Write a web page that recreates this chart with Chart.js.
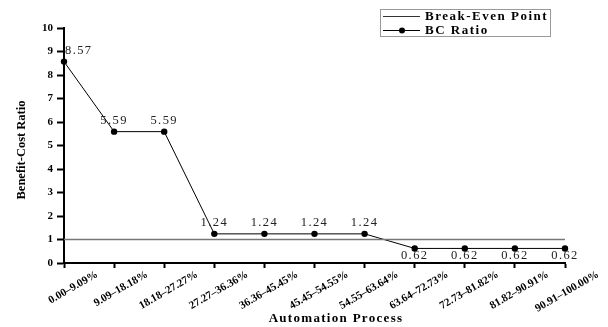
<!DOCTYPE html>
<html><head><meta charset="utf-8">
<script src="https://cdn.jsdelivr.net/npm/chart.js@4/dist/chart.umd.min.js"></script>
<style>html,body{margin:0;padding:0;background:#fff}#wrap{width:608px;height:327px}</style>
</head><body><div id="wrap"><canvas id="c" width="608" height="327"></canvas></div>
<script>
const categories = ['0.00–9.09%', '9.09–18.18%', '18.18–27.27%', '27.27–36.36%', '36.36–45.45%', '45.45–54.55%', '54.55–63.64%', '63.64–72.73%', '72.73–81.82%', '81.82–90.91%', '90.91–100.00%'];
const bcRatio = [8.57, 5.59, 5.59, 1.24, 1.24, 1.24, 1.24, 0.62, 0.62, 0.62, 0.62];
const breakEven = [1, 1, 1, 1, 1, 1, 1, 1, 1, 1, 1];
const seriesNames = ['Break-Even Point', 'BC Ratio'];
const xTitle = 'Automation Process';
const yTitle = 'Benefit-Cost Ratio';

const SERIF = "'Liberation Serif', 'Times New Roman', serif";

const extras = {
  id: 'extras',
  afterDatasetsDraw(chart) {
    const ctx = chart.ctx;
    const meta = chart.getDatasetMeta(1);
    ctx.save();
    ctx.font = '12.5px ' + SERIF;
    ctx.fillStyle = '#222';
    ctx.letterSpacing = '1.4px';
    ctx.textBaseline = 'middle';
    meta.data.forEach((pt, i) => {
      const v = bcRatio[i];
      const txt = v.toFixed(2);
      ctx.textAlign = i === 0 ? 'left' : 'center';
      const below = v < 1;
      const y = below ? pt.y + 7 : pt.y - 11;
      ctx.fillText(txt, pt.x + (i === 0 ? 1 : 0), y);
    });
    ctx.restore();

    // axis titles
    ctx.save();
    ctx.fillStyle = '#000';
    ctx.font = 'bold 13px ' + SERIF;
    ctx.letterSpacing = '1.3px';
    ctx.textAlign = 'center';
    ctx.textBaseline = 'middle';
    ctx.fillText(xTitle, 336, 319);
    ctx.restore();
    ctx.save();
    ctx.fillStyle = '#000';
    ctx.font = 'bold 12.5px ' + SERIF;
    ctx.textAlign = 'center';
    ctx.textBaseline = 'middle';
    ctx.translate(22, 150);
    ctx.rotate(-Math.PI / 2);
    ctx.fillText(yTitle, 0, 0);
    ctx.restore();

    // legend
    ctx.save();
    ctx.strokeStyle = '#999';
    ctx.lineWidth = 1;
    ctx.strokeRect(380.5, 9.5, 170, 27);
    const ds = chart.data.datasets;
    ctx.font = 'bold 13px ' + SERIF;
    ctx.letterSpacing = '1.5px';
    ctx.textAlign = 'left';
    ctx.textBaseline = 'middle';
    ctx.fillStyle = '#000';
    [16, 30].forEach((yy, k) => {
      ctx.strokeStyle = k === 0 ? '#333' : ds[1].borderColor;
      ctx.lineWidth = 1;
      ctx.beginPath();
      ctx.moveTo(383, yy + 0.5);
      ctx.lineTo(420, yy + 0.5);
      ctx.stroke();
      if (k === 1) {
        ctx.beginPath();
        ctx.arc(402, yy + 0.5, 3, 0, Math.PI * 2);
        ctx.fillStyle = '#000';
        ctx.fill();
      }
      ctx.fillStyle = '#000';
      ctx.fillText(seriesNames[k], 425, yy + 1);
    });
    ctx.restore();
  }
};

new Chart(document.getElementById('c'), {
  type: 'line',
  data: {
    labels: categories,
    datasets: [
      { label: seriesNames[0], data: breakEven, borderColor: '#777', borderWidth: 1.5, pointRadius: 0, fill: false, tension: 0 },
      { label: seriesNames[1], data: bcRatio, borderColor: '#000', backgroundColor: '#000', borderWidth: 1, pointRadius: 3.2, pointBackgroundColor: '#000', pointBorderWidth: 0, fill: false, tension: 0 }
    ]
  },
  options: {
    responsive: false,
    animation: false,
    devicePixelRatio: 1,
    layout: { padding: { left: 0, right: 43, top: 28, bottom: 0 } },
    plugins: { legend: { display: false }, tooltip: { enabled: false } },
    scales: {
      x: {
        type: 'category',
        offset: false,
        afterFit(s) { s.height = 64; },
        border: { color: '#000', width: 2 },
        grid: { drawOnChartArea: false, drawTicks: true, tickLength: 5, tickWidth: 2, tickColor: '#000', offset: false },
        ticks: { autoSkip: false, minRotation: 30, maxRotation: 30, labelOffset: 33, padding: 0, color: '#000', font: { family: SERIF, size: 11, weight: 'bold' } }
      },
      y: {
        min: 0, max: 10,
        afterFit(s) { s.width = 64; },
        border: { color: '#000', width: 2 },
        grid: { drawOnChartArea: false, drawTicks: true, tickLength: 7, tickWidth: 2, tickColor: '#000' },
        ticks: { stepSize: 1, padding: 4, color: '#000', font: { family: SERIF, size: 11, weight: 'bold' } }
      }
    }
  },
  plugins: [extras]
});
</script></body></html>
